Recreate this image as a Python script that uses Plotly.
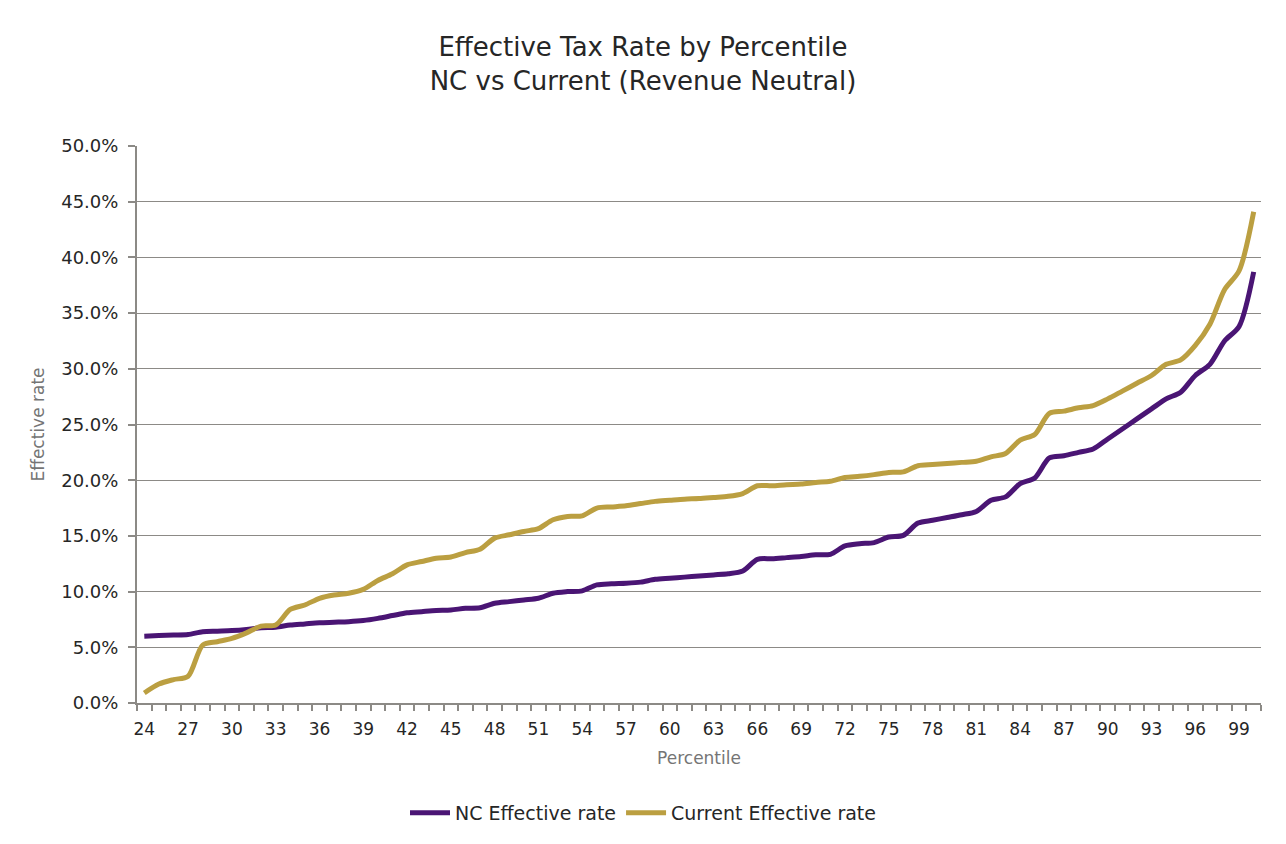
import plotly.graph_objects as go

percentile = list(range(24, 101))

nc_rate = [6.0, 6.05, 6.1, 6.15, 6.4, 6.45, 6.5, 6.6, 6.75, 6.8,
           7.0, 7.1, 7.2, 7.25, 7.3, 7.4, 7.6, 7.85, 8.1, 8.2,
           8.3, 8.35, 8.5, 8.55, 8.95, 9.1, 9.25, 9.4, 9.85, 10.0,
           10.07, 10.6, 10.7, 10.75, 10.85, 11.1, 11.2, 11.3, 11.4, 11.5,
           11.6, 11.85, 12.9, 12.95, 13.05, 13.15, 13.3, 13.35, 14.1, 14.3,
           14.4, 14.9, 15.05, 16.15, 16.4, 16.65, 16.9, 17.2, 18.2, 18.5,
           19.7, 20.2, 22.0, 22.2, 22.5, 22.8, 23.7, 24.6, 25.5, 26.4,
           27.3, 27.9, 29.4, 30.4, 32.5, 33.8, 38.7]

current_rate = [0.9, 1.7, 2.1, 2.4, 5.2, 5.5, 5.8, 6.3, 6.9, 7.0,
                8.4, 8.8, 9.4, 9.7, 9.85, 10.2, 11.0, 11.6, 12.4, 12.7,
                13.0, 13.1, 13.5, 13.8, 14.8, 15.1, 15.4, 15.65, 16.45, 16.75,
                16.8, 17.5, 17.6, 17.7, 17.9, 18.1, 18.2, 18.3, 18.35, 18.45,
                18.55, 18.8, 19.5, 19.5, 19.6, 19.65, 19.8, 19.9, 20.25, 20.35,
                20.5, 20.7, 20.75, 21.3, 21.4, 21.5, 21.6, 21.7, 22.1, 22.4,
                23.6, 24.1, 26.0, 26.2, 26.5, 26.7, 27.3, 28.0, 28.7, 29.4,
                30.4, 30.8, 32.1, 34.0, 37.1, 38.8, 44.1]

x_tick_labels = list(range(24, 100, 3))
y_ticks = [0, 5, 10, 15, 20, 25, 30, 35, 40, 45, 50]

PURPLE = "#4a1574"
GOLD = "#bb9f41"
AXIS = "#8c8a86"
FONT = "DejaVu Sans"

fig = go.Figure()
fig.add_trace(go.Scatter(x=percentile, y=nc_rate, mode="lines", name="NC Effective rate",
                         line=dict(color=PURPLE, width=5, shape="spline", smoothing=0.8)))
fig.add_trace(go.Scatter(x=percentile, y=current_rate, mode="lines", name="Current Effective rate",
                         line=dict(color=GOLD, width=5, shape="spline", smoothing=0.8)))

fig.update_layout(
    width=1286, height=844,
    margin=dict(l=137, r=25, t=146, b=141),
    paper_bgcolor="white", plot_bgcolor="white",
    font=dict(family=FONT, color="#262626", size=17),
    title=dict(text="Effective Tax Rate by Percentile<br>NC vs Current (Revenue Neutral)",
               x=0.5, xref="container", xanchor="center",
               y=1 - 56 / 844, yref="container", yanchor="top",
               font=dict(family=FONT, size=26, color="#262626")),
    showlegend=True,
    legend=dict(orientation="h", xref="container", x=0.5, xanchor="center",
                yref="container", y=1 - 813 / 844, yanchor="middle",
                font=dict(family=FONT, size=19, color="#262626"),
                itemwidth=40, tracegroupgap=0),
)

fig.update_xaxes(
    range=[23.5, 100.5],
    tickmode="array", tickvals=x_tick_labels, ticktext=[str(v) for v in x_tick_labels],
    ticks="", showgrid=False, zeroline=False,
    showline=True, linecolor=AXIS, linewidth=2,
    tickfont=dict(size=17, color="#262626"), ticklabelstandoff=10,
    minor=dict(ticks="outside", tick0=23.5, dtick=1, ticklen=6, tickwidth=2,
               tickcolor=AXIS, showgrid=False),
    title=dict(text="Percentile", font=dict(size=17, color="#757575"), standoff=14),
)

fig.update_yaxes(
    range=[0, 50],
    tickmode="array", tickvals=y_ticks, ticktext=[f"{v:.1f}%" for v in y_ticks],
    ticks="outside", ticklen=7, tickwidth=2, tickcolor=AXIS,
    showgrid=True, gridcolor=AXIS, gridwidth=1, zeroline=False,
    showline=True, linecolor=AXIS, linewidth=2,
    tickfont=dict(size=18, color="#262626"), ticklabelstandoff=6,
    title=dict(text="Effective rate", font=dict(size=17, color="#757575"), standoff=12),
)

fig.write_html("out.html")
